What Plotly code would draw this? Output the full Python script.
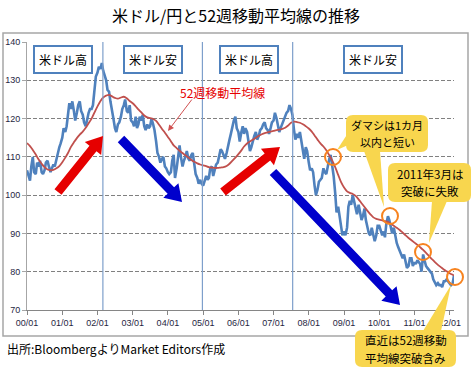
import pandas as pd
import plotly.graph_objects as go

# ---------------- data ----------------
usd_2000 = [106.5, 105.0, 103.8, 107.5, 110.0, 106.0, 105.5, 108.5, 107.5, 109.0, 106.0, 105.5,
            106.5, 108.5, 109.0, 107.5, 106.0, 107.0, 108.0, 107.5, 109.5, 111.0, 112.5, 113.5]
usd_2001 = [115.0, 117.5, 116.5, 118.0, 121.5, 124.0, 122.5, 124.5, 122.0, 119.5, 121.5, 123.5,
            124.5, 122.0, 121.0, 119.0, 118.0, 120.0, 121.5, 122.5, 122.5, 123.5, 127.0, 131.0]
usd_2002 = [132.0, 133.5, 133.0, 134.5, 132.5, 131.5, 130.0, 127.5, 127.0, 124.5, 122.5, 120.0,
            117.5, 116.5, 118.5, 119.0, 120.5, 122.5, 123.5, 125.0, 122.0, 121.5, 123.5, 119.5]
usd_2003 = [119.0, 118.0, 120.5, 117.5, 118.5, 120.5, 119.5, 121.0, 118.0, 117.0, 118.5, 117.5,
            118.0, 120.0, 118.5, 117.0, 114.0, 111.0, 110.0, 108.5, 109.5, 110.0, 107.5, 107.0]
usd_2004 = [106.0, 105.5, 106.0, 109.0, 110.5, 104.5, 107.0, 110.5, 113.0, 110.0, 107.5, 109.0,
            110.0, 111.5, 109.5, 109.0, 110.5, 111.0, 108.5, 105.5, 104.5, 103.0, 104.0, 103.0]
usd_2005 = [102.5, 104.0, 105.0, 104.0, 104.5, 107.0, 107.5, 105.0, 106.5, 108.0, 108.5, 110.5,
            112.0, 111.5, 110.5, 109.5, 111.0, 113.0, 114.5, 116.0, 118.5, 119.5, 120.5, 117.5]
usd_2006 = [116.5, 114.0, 116.5, 118.0, 116.0, 117.5, 116.5, 114.0, 111.5, 112.5, 114.5, 115.5,
            116.5, 114.5, 115.5, 117.0, 117.5, 118.5, 119.0, 117.5, 117.0, 116.0, 117.5, 119.0]
usd_2007 = [119.5, 121.5, 120.0, 118.0, 116.5, 117.5, 118.5, 119.5, 120.5, 121.5, 122.0, 123.5,
            122.5, 121.0, 117.0, 114.5, 116.0, 115.0, 116.5, 114.5, 111.0, 109.5, 112.5, 111.5]
usd_2008 = [108.5, 106.5, 107.0, 106.0, 102.5, 100.0, 101.5, 103.5, 104.0, 104.5, 107.0, 106.0,
            105.5, 107.5, 109.5, 110.5, 107.5, 105.0, 100.5, 95.5, 97.0, 94.5, 91.5, 89.5]
usd_2009 = [90.5, 89.5, 91.5, 97.0, 98.5, 97.5, 100.0, 98.5, 96.5, 95.0, 97.5, 96.0,
            93.5, 94.5, 96.5, 93.5, 91.0, 90.0, 89.5, 91.5, 89.5, 88.0, 89.5, 92.0]
usd_2010 = [92.0, 90.5, 89.5, 90.5, 89.0, 92.5, 94.5, 93.5, 92.0, 90.0, 91.5, 89.0,
            87.5, 86.5, 85.5, 84.5, 83.5, 84.5, 82.5, 81.0, 81.5, 83.5, 83.5, 81.5]
usd_2011 = [82.5, 82.0, 83.0, 82.5, 82.0, 80.0, 84.5, 83.0, 81.5, 81.0, 80.5, 80.0,
            79.5, 78.0, 77.0, 76.5, 77.0, 76.5, 76.5, 76.0, 77.5, 77.5, 78.0, 77.5]
usd_2012 = [77.0, 76.5, 77.0, 79.0]

ma_2000 = [113.6, 112.8, 111.8, 110.6, 109.3, 108.2, 107.3, 106.7, 106.5, 106.6, 107.0, 107.6]
ma_2001 = [108.6, 109.8, 111.0, 112.6, 113.8, 114.9, 115.8, 116.6, 117.6, 118.8, 120.0, 121.6]
ma_2002 = [123.2, 124.6, 125.5, 126.0, 126.2, 125.8, 125.4, 125.2, 125.5, 125.7, 125.3, 124.6]
ma_2003 = [124.0, 123.2, 122.4, 121.6, 120.8, 120.3, 120.1, 119.9, 119.4, 118.4, 117.3, 116.3]
ma_2004 = [115.2, 114.1, 113.0, 112.3, 111.6, 111.0, 110.4, 109.8, 109.2, 108.7, 108.3, 108.0]
ma_2005 = [107.8, 107.6, 107.3, 107.2, 107.1, 107.1, 107.2, 107.3, 107.6, 108.2, 109.0, 109.8]
ma_2006 = [110.7, 111.7, 112.7, 113.5, 114.0, 114.5, 115.0, 115.5, 115.9, 116.2, 116.4, 116.6]
ma_2007 = [116.8, 117.0, 117.1, 117.3, 117.6, 118.2, 118.9, 119.2, 119.1, 118.9, 118.5, 118.0]
ma_2008 = [117.4, 116.6, 115.6, 114.5, 113.5, 112.7, 111.7, 110.4, 109.0, 107.3, 105.3, 103.4]
ma_2009 = [102.0, 101.0, 100.6, 100.3, 99.8, 98.9, 97.9, 96.9, 95.9, 95.0, 94.2, 93.8]
ma_2010 = [93.6, 93.4, 93.2, 93.0, 92.5, 92.0, 91.5, 90.9, 90.2, 89.5, 88.8, 88.2]
ma_2011 = [87.6, 87.0, 86.4, 85.7, 84.9, 84.1, 83.3, 82.5, 81.8, 81.2, 80.6, 80.1]
ma_2012 = [79.6, 79.2, 79.0]

x_tick_labels = ["00/01", "01/01", "02/01", "03/01", "04/01", "05/01", "06/01",
                 "07/01", "08/01", "09/01", "10/01", "11/01", "12/01"]
y_ticks = [70, 80, 90, 100, 110, 120, 130, 140]
regime_lines = ["2002-02-26", "2004-12-24", "2007-07-18"]

usd = (usd_2000 + usd_2001 + usd_2002 + usd_2003 + usd_2004 + usd_2005 + usd_2006 +
       usd_2007 + usd_2008 + usd_2009 + usd_2010 + usd_2011 + usd_2012)
usd_dates = pd.date_range("2000-01-01", periods=len(usd), freq="SMS")

ma = (ma_2000 + ma_2001 + ma_2002 + ma_2003 + ma_2004 + ma_2005 + ma_2006 +
      ma_2007 + ma_2008 + ma_2009 + ma_2010 + ma_2011 + ma_2012)
ma_dates = list(pd.date_range("2000-01-01", periods=len(ma) - 1, freq="MS")) + [pd.Timestamp("2012-02-15")]

tick_vals = [f"{2000 + i}-01-01" for i in range(len(x_tick_labels))]

# ---------------- layout helpers (pixel -> paper) ----------------
L, R, T, B = 27, 454, 42, 310
W, H = 472, 371


def px(x):
    return (x - L) / (R - L)


def py(y):
    return (B - y) / (B - T)


def poly(points):
    return "M " + " L ".join(f"{px(x):.5f},{py(y):.5f}" for x, y in points) + " Z"


def rrect(x0, y0, x1, y1, r):
    p = lambda x, y: f"{px(x):.5f},{py(y):.5f}"
    s = f"M {p(x0 + r, y0)} L {p(x1 - r, y0)} Q {p(x1, y0)} {p(x1, y0 + r)} "
    s += f"L {p(x1, y1 - r)} Q {p(x1, y1)} {p(x1 - r, y1)} "
    s += f"L {p(x0 + r, y1)} Q {p(x0, y1)} {p(x0, y1 - r)} "
    s += f"L {p(x0, y0 + r)} Q {p(x0, y0)} {p(x0 + r, y0)} Z"
    return s


def big_arrow(tail, head, w=9, hw=21, hl=16):
    import math
    tx, ty = tail
    hx, hy = head
    d = math.hypot(hx - tx, hy - ty)
    ux, uy = (hx - tx) / d, (hy - ty) / d
    nx, ny = -uy, ux
    bx, by = hx - ux * hl, hy - uy * hl
    pts = [(tx + nx * w / 2, ty + ny * w / 2), (bx + nx * w / 2, by + ny * w / 2),
           (bx + nx * hw / 2, by + ny * hw / 2), (hx, hy),
           (bx - nx * hw / 2, by - ny * hw / 2), (bx - nx * w / 2, by - ny * w / 2),
           (tx - nx * w / 2, ty - ny * w / 2)]
    return poly(pts)


fig = go.Figure()
fig.add_trace(go.Scatter(x=usd_dates, y=usd, mode="lines",
                         line=dict(color="#4F81BD", width=2.6), hoverinfo="skip"))
fig.add_trace(go.Scatter(x=ma_dates, y=ma, mode="lines",
                         line=dict(color="#C0504D", width=1.8, shape="spline"), hoverinfo="skip"))

shapes = []
shapes.append(dict(type="rect", xref="paper", yref="paper", x0=px(3), x1=px(468), y0=py(336), y1=py(33),
                   line=dict(color="#A6A6A6", width=1.5), layer="below"))
for d in regime_lines:
    shapes.append(dict(type="line", xref="x", yref="paper", x0=d, x1=d, y0=0, y1=1,
                       line=dict(color="#7E9FCB", width=1.2)))
RED, BLUE = "#E60000", "#0000CC"
for tail, head, col in [((58, 192), (103, 136), RED), ((121, 139), (182, 202), BLUE),
                        ((223, 192), (280, 147), RED), ((273, 172), (400, 305), BLUE)]:
    shapes.append(dict(type="path", xref="paper", yref="paper", path=big_arrow(tail, head),
                       fillcolor=col, line=dict(width=0)))

YEL = "#F8D64E"
for tri in [[(348, 133), (348, 145), (337, 150)],
            [(364, 151), (380, 151), (384, 207)],
            [(432, 201), (447, 201), (429, 243)],
            [(423, 331), (441, 331), (451, 285)]]:
    shapes.append(dict(type="path", xref="paper", yref="paper", path=poly(tri),
                       fillcolor=YEL, line=dict(width=0)))
for bx in [(346, 115, 428, 152), (388, 163, 471, 202), (355, 330, 456, 367)]:
    shapes.append(dict(type="path", xref="paper", yref="paper", path=rrect(*bx, 7),
                       fillcolor=YEL, line=dict(width=0)))
for cx, cy in [(333, 157), (390, 216), (423, 252), (455, 277)]:
    r = 8
    shapes.append(dict(type="circle", xref="paper", yref="paper",
                       x0=px(cx - r), x1=px(cx + r), y0=py(cy + r), y1=py(cy - r),
                       line=dict(color="#F7831F", width=2)))

JP = "Noto Sans CJK JP"
ann = []


def text(x, y, t, size=12, color="#000", xanchor="center", **kw):
    d = dict(xref="paper", yref="paper", x=px(x), y=py(y), text=t, showarrow=False,
             xanchor=xanchor, yanchor="middle", font=dict(family=JP, size=size, color=color))
    d.update(kw)
    ann.append(d)


for cx, txt in [(63, "米ドル高"), (152.5, "米ドル安"), (248.5, "米ドル高"), (372.5, "米ドル安")]:
    text(cx, 59.5, txt, bgcolor="white", bordercolor="#4F81BD", borderwidth=2, borderpad=1,
         width=54, height=23)
text(222, 92, "52週移動平均線", color="#E60000")
ann.append(dict(xref="paper", yref="paper", x=px(168), y=py(131), ax=25, ay=-33, text="",
                showarrow=True, arrowhead=2, arrowsize=1.2, arrowwidth=1, arrowcolor="#D05050"))
text(387, 125, "ダマシは1カ月", size=11)
text(387, 142, "以内と短い", size=11)
text(429.5, 174, "2011年3月は", size=11.5)
text(429.5, 191.5, "突破に失敗", size=11.5)
text(405.5, 340, "直近は52週移動", size=11.5)
text(405.5, 357.5, "平均線突破含み", size=11.5)
text(236, 15, "米ドル/円と52週移動平均線の推移", size=16)
text(5, 348, "出所:BloombergよりMarket Editors作成", xanchor="left")

fig.update_layout(
    width=W, height=H, margin=dict(l=L, r=W - R, t=T, b=H - B, autoexpand=False),
    paper_bgcolor="white", plot_bgcolor="white", showlegend=False,
    shapes=shapes, annotations=ann,
    xaxis=dict(range=["2000-01-01", "2012-02-15"], tickvals=tick_vals, ticktext=x_tick_labels,
               automargin=False, showgrid=False, zeroline=False, showline=True,
               linecolor="#868686", linewidth=1, ticks="outside", ticklen=4, tickcolor="#868686",
               tickfont=dict(family="Liberation Sans", size=9, color="#1F1F3F")),
    yaxis=dict(range=[70, 140], tickvals=y_ticks, automargin=False, showgrid=True,
               gridcolor="#808080", griddash="4px,2px", gridwidth=1, zeroline=False, showline=True,
               linecolor="#A6A6A6", linewidth=1, ticks="outside", ticklen=4, tickcolor="#A6A6A6",
               tickfont=dict(family="Liberation Sans", size=9, color="#1F1F3F")),
)

fig.write_html("out.html", config={"displayModeBar": False},
               post_script="document.body.style.margin='0px';")
